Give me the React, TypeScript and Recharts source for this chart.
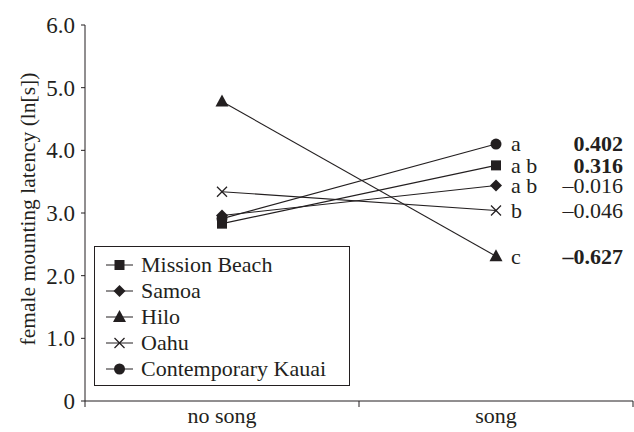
import { LineChart, Line, XAxis, YAxis, Label } from 'recharts';

const FONT = '"Liberation Serif", "Times New Roman", serif';
const INK = '#231f20';

const categories = ['no song', 'song'];
const yTicks = [0, 1, 2, 3, 4, 5, 6];

const seriesNames = ['Mission Beach', 'Samoa', 'Hilo', 'Oahu', 'Contemporary Kauai'];
const seriesKeys = ['mission', 'samoa', 'hilo', 'oahu', 'kauai'];
const shapes = ['square', 'diamond', 'triangle', 'cross', 'circle'];

const missionBeach = [2.83, 3.76];
const samoa = [2.96, 3.44];
const hilo = [4.78, 2.31];
const oahu = [3.34, 3.04];
const kauai = [2.91, 4.1];

const letters = ['a b', 'a b', 'c', 'b', 'a'];
const effects = ['0.316', '–0.016', '–0.627', '–0.046', '0.402'];
const effectBold = [true, false, true, false, true];

const values = [missionBeach, samoa, hilo, oahu, kauai];

const data = categories.map((cond, i) => {
  const row: Record<string, string | number> = { cond };
  seriesKeys.forEach((k, s) => {
    row[k] = values[s][i];
  });
  return row;
});

function Marker({ shape, cx, cy }: { shape: string; cx: number; cy: number }) {
  if (shape === 'square') return <rect x={cx - 5} y={cy - 5} width={10} height={10} fill={INK} />;
  if (shape === 'diamond')
    return <polygon points={`${cx},${cy - 6} ${cx + 6},${cy} ${cx},${cy + 6} ${cx - 6},${cy}`} fill={INK} />;
  if (shape === 'triangle')
    return <polygon points={`${cx},${cy - 7} ${cx + 6.5},${cy + 5} ${cx - 6.5},${cy + 5}`} fill={INK} />;
  if (shape === 'cross')
    return (
      <g stroke={INK} strokeWidth={1.3}>
        <line x1={cx - 5} y1={cy - 5} x2={cx + 5} y2={cy + 5} />
        <line x1={cx - 5} y1={cy + 5} x2={cx + 5} y2={cy - 5} />
      </g>
    );
  return <circle cx={cx} cy={cy} r={5.5} fill={INK} />;
}

function makeDot(s: number) {
  return (p: any) => {
    const { cx, cy, index } = p;
    return (
      <g key={`dot-${s}-${index}`}>
        <Marker shape={shapes[s]} cx={cx} cy={cy} />
        {index === 1 && (
          <g fontFamily={FONT} fontSize={22} fill={INK}>
            <text x={cx + 15} y={cy} dy="0.33em">
              {letters[s]}
            </text>
            <text x={cx + 127} y={cy} dy="0.33em" textAnchor="end" fontWeight={effectBold[s] ? 'bold' : 'normal'}>
              {effects[s]}
            </text>
          </g>
        )}
      </g>
    );
  };
}

function XTick(p: any) {
  const { x, y, payload, index } = p;
  const half = payload.offset || 0;
  return (
    <g>
      <line x1={x - half} y1={y} x2={x - half} y2={y + 6} stroke={INK} />
      {index === categories.length - 1 && <line x1={x + half} y1={y} x2={x + half} y2={y + 6} stroke={INK} />}
      <text x={x} y={y + 14} dy="0.35em" textAnchor="middle" fontFamily={FONT} fontSize={22} fill={INK}>
        {payload.value}
      </text>
    </g>
  );
}

function LegendBox() {
  return (
    <div
      style={{
        position: 'absolute',
        left: 94,
        top: 246,
        width: 256,
        height: 140,
        border: `1px solid ${INK}`,
        boxSizing: 'border-box',
        paddingTop: 5,
        fontFamily: FONT,
        fontSize: 22,
        color: INK,
      }}
    >
      {seriesNames.map((name, s) => (
        <div key={name} style={{ display: 'flex', alignItems: 'center', height: 26 }}>
          <svg width={46} height={26} style={{ flexShrink: 0 }}>
            <line x1={11} y1={13} x2={38} y2={13} stroke={INK} strokeWidth={1} />
            <Marker shape={shapes[s]} cx={24.5} cy={13} />
          </svg>
          <span style={{ lineHeight: '26px' }}>{name}</span>
        </div>
      ))}
    </div>
  );
}

export default function App() {
  return (
    <div style={{ position: 'absolute', left: 0, top: 0, width: 634, height: 432, background: '#fff' }}>
      <LineChart width={634} height={432} data={data} margin={{ top: 25, right: 1, bottom: 0, left: 0 }}>
        <XAxis
          dataKey="cond"
          scale="band"
          height={31}
          tick={<XTick />}
          tickLine={false}
          tickSize={0}
          tickMargin={0}
          axisLine={{ stroke: INK }}
          interval={0}
        />
        <YAxis
          domain={[0, 6]}
          ticks={yTicks}
          width={85}
          tickSize={4}
          tickMargin={6}
          tickLine={{ stroke: INK }}
          axisLine={{ stroke: INK }}
          tickFormatter={(v: number) => (v === 0 ? '0' : v.toFixed(1))}
          tick={{ fontFamily: FONT, fontSize: 23, fill: INK }}
        >
          <Label
            content={(p: any) => {
              const vb = p.viewBox || {};
              const cx = 27;
              const cy = vb.y + vb.height / 2 - 4;
              return (
                <text
                  x={cx}
                  y={cy}
                  transform={`rotate(-90, ${cx}, ${cy})`}
                  textAnchor="middle"
                  dy="0.35em"
                  fontFamily={FONT}
                  fontSize={21.5}
                  fill={INK}
                >
                  female mounting latency (ln[s])
                </text>
              );
            }}
          />
        </YAxis>
        {seriesKeys.map((k, s) => (
          <Line
            key={k}
            dataKey={k}
            name={seriesNames[s]}
            stroke={INK}
            strokeWidth={1.1}
            dot={makeDot(s)}
            activeDot={false}
            isAnimationActive={false}
          />
        ))}
      </LineChart>
      <LegendBox />
    </div>
  );
}
